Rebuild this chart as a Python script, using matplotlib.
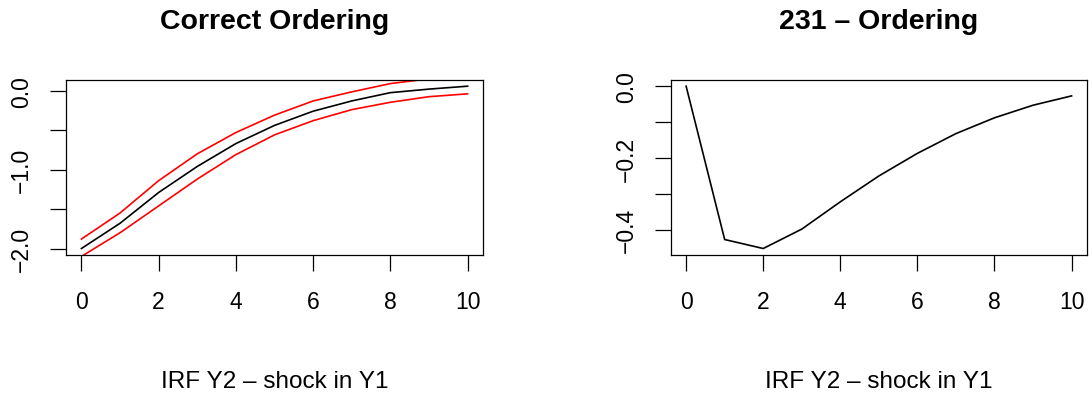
import matplotlib
matplotlib.use("Agg")
import matplotlib.pyplot as plt

plt.rcParams['font.family'] = ['Liberation Sans', 'DejaVu Sans']

horizon = list(range(11))
# Correct ordering: IRF of Y2 to shock in Y1 with bands
irf_correct = [-2.00, -1.68, -1.29, -0.96, -0.67, -0.44, -0.26, -0.13, -0.025, 0.02, 0.057]
upper_correct = [-1.88, -1.55, -1.14, -0.80, -0.53, -0.31, -0.13, -0.015, 0.09, 0.15, 0.17]
lower_correct = [-2.10, -1.80, -1.46, -1.12, -0.81, -0.56, -0.38, -0.24, -0.147, -0.076, -0.04]
# 231 ordering
irf_231 = [0.0, -0.427, -0.452, -0.398, -0.322, -0.250, -0.187, -0.132, -0.088, -0.053, -0.027]

titles = ["Correct Ordering", "231 \u2013 Ordering"]
xlabel = "IRF Y2 \u2013 shock in Y1"
xticks = [0, 2, 4, 6, 8, 10]
yticks_left = [0.0, -0.5, -1.0, -1.5, -2.0]
yticklabels_left = ["0.0", "", "\u22121.0", "", "\u22122.0"]
yticks_right = [0.0, -0.1, -0.2, -0.3, -0.4]
yticklabels_right = ["0.0", "", "\u22120.2", "", "\u22120.4"]

W, H = 1092, 410
fig = plt.figure(figsize=(W / 100, H / 100), dpi=100)

def px_axes(l, t, r, b):
    return fig.add_axes([l / W, 1 - b / H, (r - l) / W, (b - t) / H])

ax1 = px_axes(66, 80.7, 483, 256)
ax2 = px_axes(670.7, 80.7, 1087, 256)

def r_range(vals):
    lo, hi = min(vals), max(vals)
    e = 0.04 * (hi - lo)
    return lo - e, hi + e

ax1.plot(horizon, irf_correct, color='black', lw=1.2)
ax1.plot(horizon, upper_correct, color='red', lw=1.2)
ax1.plot(horizon, lower_correct, color='red', lw=1.2)
ax1.set_ylim(*r_range(irf_correct))
ax1.set_yticks(yticks_left)
ax1.set_yticklabels(yticklabels_left)

ax2.plot(horizon, irf_231, color='black', lw=1.2)
ax2.set_ylim(*r_range(irf_231))
ax2.set_yticks(yticks_right)
ax2.set_yticklabels(yticklabels_right)

for ax, title in zip((ax1, ax2), titles):
    ax.set_xlim(-0.4, 10.4)
    ax.set_xticks(xticks)
    ax.set_xticklabels([str(v) for v in xticks])
    for s in ax.spines.values():
        s.set_linewidth(0.9)
    ax.tick_params(axis='x', length=11.5, width=0.9, pad=14, labelsize=16.5)
    ax.tick_params(axis='y', length=11.5, width=0.9, pad=12, labelsize=16.5, labelrotation=90)
    for lab in ax.get_yticklabels():
        lab.set_va('center')
    bb = ax.get_position()
    cx = (bb.x0 + bb.x1) / 2
    fig.text(cx, 1 - 22 / H, title, ha='center', va='center', fontsize=20.5, fontweight='bold')
    fig.text(cx, 1 - 382 / H, xlabel, ha='center', va='center', fontsize=17.5)

fig.savefig("out.png", dpi=100)
